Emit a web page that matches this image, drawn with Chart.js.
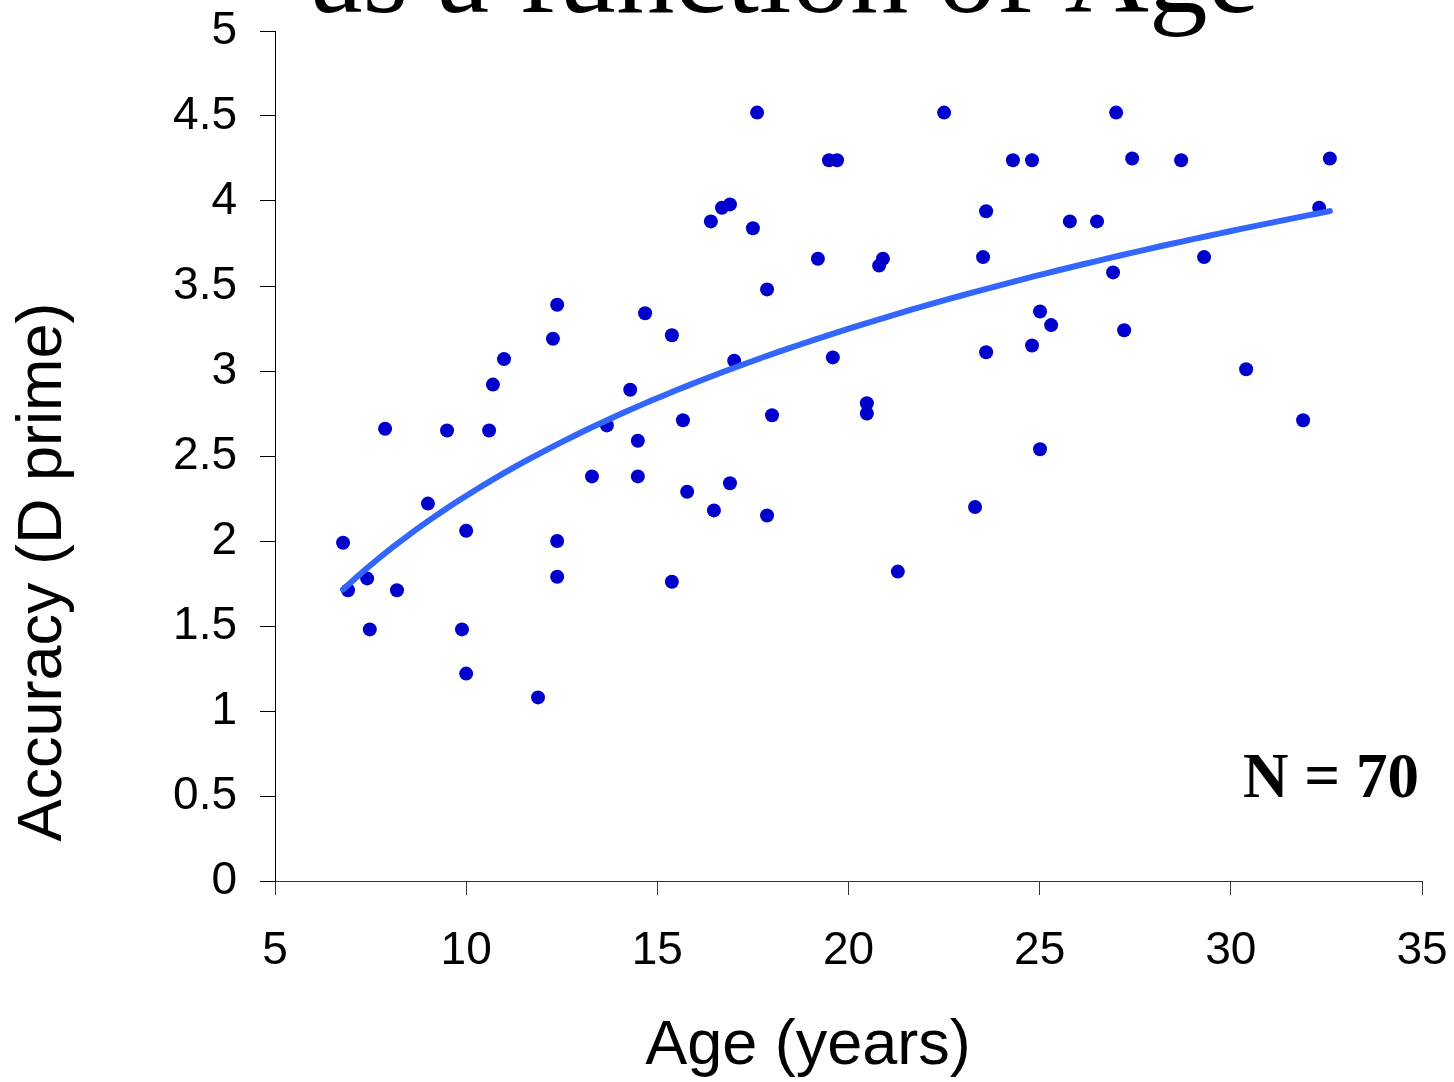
<!DOCTYPE html>
<html>
<head>
<meta charset="utf-8">
<title>Accuracy as a function of Age</title>
<script src="https://cdn.jsdelivr.net/npm/chart.js@4.4.1/dist/chart.umd.min.js"></script>
<style>
    html, body { margin: 0; padding: 0; background: #ffffff; }
    canvas { display: block; }
</style>
</head>
<body>
<canvas id="idade" width="1454" height="1082"></canvas>
<script>
// ages (years) and d' accuracy for each participant
var ages = [
    6.78, 6.91, 7.41, 7.48, 7.88, 8.19, 9.00, 9.50, 9.89, 10.00,
    10.00, 10.60, 10.70, 10.99, 11.88, 12.27, 12.38, 12.38, 12.38, 13.29,
    13.68, 14.29, 14.49, 14.49, 14.68, 15.38, 15.38, 15.67, 15.78, 16.40,
    16.48, 16.69, 16.90, 16.90, 17.01, 17.50, 17.61, 17.87, 17.87, 18.00,
    19.20, 19.49, 19.70, 19.59, 20.48, 20.48, 20.80, 20.90, 21.29, 22.50,
    23.31, 23.52, 23.60, 23.60, 24.30, 24.80, 24.80, 25.01, 25.01, 25.30,
    25.79, 26.50, 26.92, 27.00, 27.21, 27.42, 28.70, 29.30, 30.40, 31.89,
    32.31, 32.59
];
var dprime = [
    1.99, 1.71, 1.78, 1.48, 2.66, 1.71, 2.22, 2.65, 1.48, 2.06,
    1.22, 2.65, 2.92, 3.07, 1.08, 3.19, 3.39, 2.00, 1.79, 2.38,
    2.68, 2.89, 2.59, 2.38, 3.34, 3.21, 1.76, 2.71, 2.29, 3.88,
    2.18, 3.96, 3.98, 2.34, 3.06, 3.84, 4.52, 3.48, 2.15, 2.74,
    3.66, 4.24, 4.24, 3.08, 2.81, 2.75, 3.62, 3.66, 1.82, 4.52,
    2.20, 3.67, 3.94, 3.11, 4.24, 4.24, 3.15, 3.35, 2.54, 3.27,
    3.88, 3.88, 3.58, 4.52, 3.24, 4.25, 4.24, 3.67, 3.01, 2.71,
    3.96, 4.25
];

var xTicks = [5, 10, 15, 20, 25, 30, 35];
var yTicks = [0, 0.5, 1, 1.5, 2, 2.5, 3, 3.5, 4, 4.5, 5];

var tituloTexto = 'as a function of Age';
var xTitulo = 'Age (years)';
var yTitulo = 'Accuracy (D prime)';
var nTexto = 'N = 70';

// logarithmic trend (least squares on ln(age))
function ajusteLog(xs, ys) {
    var n = xs.length, sx = 0, sy = 0, sxx = 0, sxy = 0;
    for (var i = 0; i < n; i++) {
        var lx = Math.log(xs[i]);
        sx += lx; sy += ys[i]; sxx += lx * lx; sxy += lx * ys[i];
    }
    var a = (n * sxy - sx * sy) / (n * sxx - sx * sx);
    var b = (sy - a * sx) / n;
    return { a: a, b: b };
}

var coef = ajusteLog(ages, dprime);
var xMin = Math.min.apply(null, ages);
var xMax = Math.max.apply(null, ages);
var tendencia = [];
for (var k = 0; k <= 80; k++) {
    var xv = xMin + (xMax - xMin) * k / 80;
    tendencia.push({ x: xv, y: coef.a * Math.log(xv) + coef.b });
}

var pontos = ages.map(function (a, i) { return { x: a, y: dprime[i] }; });

var sans = "'Liberation Sans', Arial, sans-serif";
var serif = "'Liberation Serif', 'Times New Roman', serif";

// drop the extra room the scales reserve for their end labels
function semPadding(scale) {
    scale.paddingTop = 0;
    scale.paddingBottom = 0;
    scale.paddingLeft = 0;
    scale.paddingRight = 0;
}

// title line, axis titles and sample size drawn straight on the canvas
var textos = {
    id: 'textos',
    afterDraw: function (chart) {
        var ctx = chart.ctx;
        ctx.save();
        ctx.fillStyle = '#000000';

        ctx.font = '117px ' + serif;
        ctx.textAlign = 'center';
        ctx.textBaseline = 'alphabetic';
        ctx.fillText(tituloTexto, 785, 12);

        ctx.font = '63px ' + sans;
        ctx.fillText(xTitulo, 808, 1064);

        ctx.save();
        ctx.translate(61, 572);
        ctx.rotate(-Math.PI / 2);
        ctx.fillText(yTitulo, 0, 0);
        ctx.restore();

        ctx.font = 'bold 63px ' + serif;
        ctx.textAlign = 'right';
        ctx.fillText(nTexto, 1419, 797);
        ctx.restore();
    }
};

let idade = document.getElementById('idade').getContext('2d');

let scatterChart = new Chart(idade, {
    type: 'scatter',
    data: {
        datasets: [{
            label: 'Accuracy',
            data: pontos,
            backgroundColor: '#0000CC',
            borderWidth: 0,
            pointRadius: 7,
            pointHoverRadius: 7,
            order: 2
        }, {
            type: 'line',
            label: 'Log trend',
            data: tendencia,
            borderColor: '#3366FF',
            borderWidth: 6,
            borderCapStyle: 'round',
            pointRadius: 0,
            tension: 0,
            fill: false,
            order: 1
        }]
    },
    options: {
        responsive: false,
        animation: false,
        events: [],
        layout: {
            padding: { top: 31, right: 32, left: 0, bottom: 0 }
        },
        plugins: {
            legend: { display: false },
            tooltip: { enabled: false },
            title: { display: false }
        },
        scales: {
            x: {
                type: 'linear',
                min: 5,
                max: 35,
                afterFit: function (scale) { scale.height = 201; semPadding(scale); },
                afterBuildTicks: function (scale) {
                    scale.ticks = xTicks.map(function (v) { return { value: v }; });
                },
                border: { display: true, color: '#333333', width: 1 },
                grid: { drawOnChartArea: false, drawTicks: true, tickLength: 14, color: '#333333' },
                ticks: {
                    color: '#000000',
                    padding: 29,
                    maxRotation: 0,
                    font: { family: sans, size: 46 }
                }
            },
            y: {
                type: 'linear',
                min: 0,
                max: 5,
                afterFit: function (scale) { scale.width = 275; semPadding(scale); },
                afterBuildTicks: function (scale) {
                    scale.ticks = yTicks.map(function (v) { return { value: v }; });
                },
                border: { display: true, color: '#000000', width: 1 },
                grid: { drawOnChartArea: false, drawTicks: true, tickLength: 15, color: '#000000' },
                ticks: {
                    color: '#000000',
                    padding: 23,
                    font: { family: sans, size: 46 },
                    callback: function (v) { return String(v); }
                }
            }
        }
    },
    plugins: [textos]
});
</script>
</body>
</html>
